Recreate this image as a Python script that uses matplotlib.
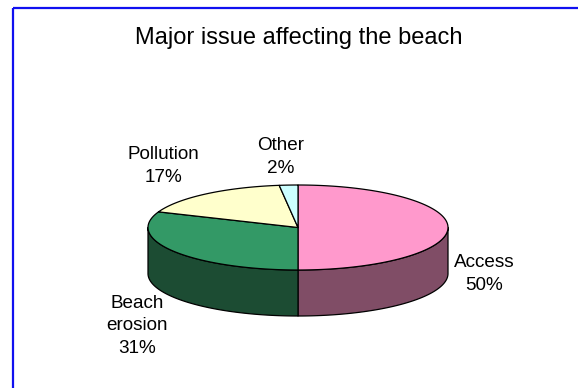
import numpy as np
import matplotlib.pyplot as plt
from matplotlib.patches import Polygon, Rectangle

plt.rcParams['font.family'] = ['Liberation Sans', 'DejaVu Sans']

labels = ['Access', 'Beach\nerosion', 'Pollution', 'Other']
values = [50, 31, 17, 2]
top_colors = ['#FF99CC', '#339966', '#FFFFCC', '#CCFFFF']
side_colors = ['#804D66', '#1C4C33', '#80806A', '#668080']

# label centres in pixels
label_xy = [(484, 274), (137, 326), (163, 166), (281, 157)]

# pie geometry (pixels)
cx, cy = 298, 227.5
rx, ry = 150, 42.5
depth = 46

fig = plt.figure(figsize=(5.78, 3.88), dpi=100)
ax = fig.add_axes([0, 0, 1, 1])
ax.set_xlim(0, 578)
ax.set_ylim(388, 0)
ax.axis('off')

# outer frame
ax.add_patch(Rectangle((13, 7.5), 700, 500, fill=False, edgecolor='#1010F0', lw=1.6))

ax.text(299, 38, 'Major issue affecting the beach', ha='center', va='center', fontsize=17)


def pt(theta, dy=0.0):
    # theta measured clockwise from 12 o'clock, degrees
    t = np.radians(theta)
    return cx + rx * np.sin(t), cy - ry * np.cos(t) + dy


total = float(sum(values))
bounds = np.concatenate([[0], np.cumsum(values)]) / total * 360

# side walls (front half only: 90..270 deg)
for i in range(len(values)):
    a0, a1 = max(bounds[i], 90), min(bounds[i + 1], 270)
    if a1 <= a0:
        continue
    th = np.linspace(a0, a1, 100)
    upper = [pt(t) for t in th]
    lower = [pt(t, depth) for t in th[::-1]]
    ax.add_patch(Polygon(upper + lower, closed=True, facecolor=side_colors[i],
                         edgecolor='black', lw=0.9, joinstyle='round'))

# top faces
for i in range(len(values)):
    th = np.linspace(bounds[i], bounds[i + 1], 200)
    verts = [(cx, cy)] + [pt(t) for t in th]
    ax.add_patch(Polygon(verts, closed=True, facecolor=top_colors[i],
                         edgecolor='black', lw=0.9, joinstyle='round'))

for lab, v, (x, y) in zip(labels, values, label_xy):
    ax.text(x, y, f'{lab}\n{v}%', ha='center', va='center', fontsize=13.6,
            linespacing=1.45)

fig.savefig('out.png', dpi=100)
